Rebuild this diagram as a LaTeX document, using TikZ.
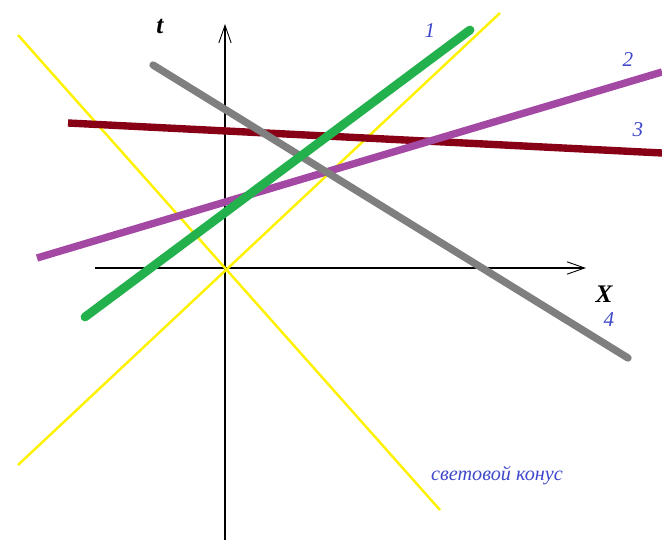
\documentclass[tikz,border=0pt]{standalone}
\usepackage{fontspec}
\setmainfont{Liberation Serif}
\usetikzlibrary{arrows.meta}
\definecolor{cono}{HTML}{FFF200}
\definecolor{verde}{HTML}{22B14C}
\definecolor{gris}{HTML}{7F7F7F}
\definecolor{lila}{HTML}{A349A4}
\definecolor{vino}{HTML}{880015}
\definecolor{rotulo}{HTML}{3F48CC}

\begin{document}
\begin{tikzpicture}[x=0.02cm, y=-0.02cm,
    eje/.style={line width=1.1pt, -{Straight Barb[length=10pt, width=7pt, line width=0.5pt]}},
    luz/.style={cono, line width=1.4pt},
    linea/.style={line width=4.2pt, line cap=round},
    numero/.style={text=rotulo, font=\large\itshape},
    nombre/.style={font=\Large\bfseries\itshape}]
  \useasboundingbox (0,0) rectangle (662,540);
  % ejes
  \coordinate (tb) at (225,540);
  \coordinate (tt) at (225,24);
  \coordinate (xl) at (95,268);
  \coordinate (xr) at (586,268);
  \draw[eje] (tb) -- (tt);
  \draw[eje] (xl) -- (xr);
  \node[nombre] (t) at (160,27) {t};
  \node[nombre] (X) at (604,294) {X};
  % cono de luz
  \coordinate (c1a) at (18,35);
  \coordinate (c1b) at (440,510);
  \coordinate (c2a) at (18,465);
  \coordinate (c2b) at (500,13);
  \draw[luz] (c1a) -- (c1b);
  \draw[luz] (c2a) -- (c2b);
  \node[text=rotulo, font=\fontsize{11.5}{14}\selectfont\itshape] (cono) at (497,475) {световой конус};
  % lineas de mundo
  \coordinate (v1) at (68,123);
  \coordinate (v2) at (662,153);
  \draw[linea, vino, line cap=butt] (v1) -- (v2);
  \coordinate (l1) at (37,258);
  \coordinate (l2) at (662,72);
  \draw[linea, lila, line cap=butt] (l1) -- (l2);
  \coordinate (g1) at (153,65);
  \coordinate (g2) at (628,358);
  \draw[linea, gris] (g1) -- (g2);
  \coordinate (e1) at (85,317);
  \coordinate (e2) at (470,30);
  \draw[linea, verde, line width=5pt] (e1) -- (e2);
  % numeros
  \node[numero] (n1) at (430,31) {1};
  \node[numero] (n2) at (628,60) {2};
  \node[numero] (n3) at (638,130) {3};
  \node[numero] (n4) at (609,320) {4};
\end{tikzpicture}
\end{document}
